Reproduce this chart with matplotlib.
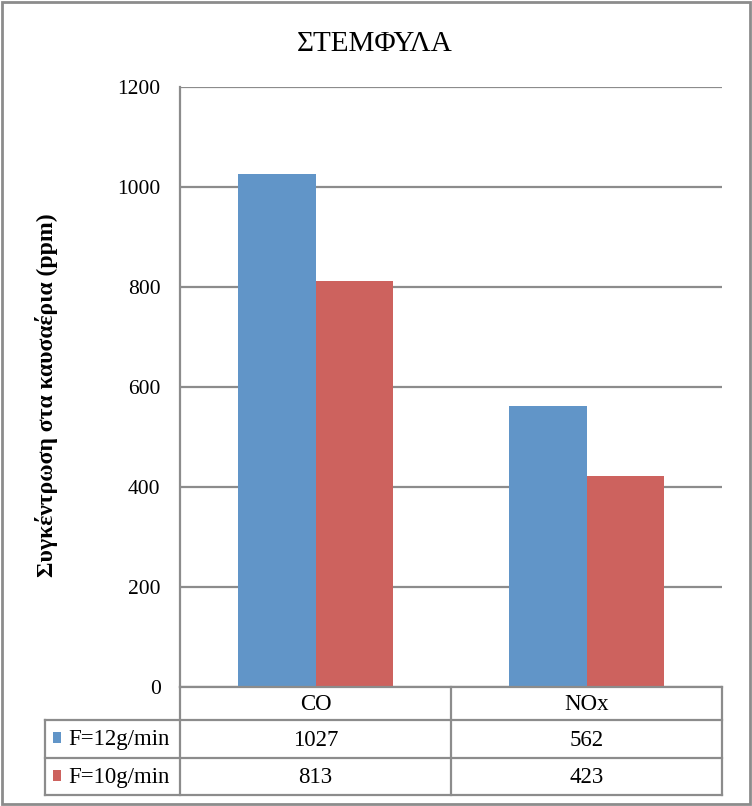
import matplotlib
matplotlib.use("Agg")
import matplotlib.pyplot as plt
import matplotlib.transforms as mtransforms
from matplotlib.patches import Rectangle
import numpy as np

title = "ΣΤΕΜΦΥΛΑ"
ylabel = "Συγκέντρωση στα καυσαέρια (ppm)"
categories = ["CO", "NOx"]
series_names = ["F=12g/min", "F=10g/min"]
values_12 = [1027, 562]
values_10 = [813, 423]
yticks = [0, 200, 400, 600, 800, 1000, 1200]
colors = ["#6195C8", "#CD625E"]

plt.rcParams['font.family'] = ['Liberation Serif', 'DejaVu Serif']

W, H = 752, 806
fig = plt.figure(figsize=(W / 100, H / 100), dpi=100)

# plot area in pixels
L, R, T, B = 180, 722, 87, 687
ax = fig.add_axes([L / W, 1 - B / H, (R - L) / W, (B - T) / H])

x = np.arange(len(categories))
w = 1 / 3.5
grid_c = "#8C8C8C"
ax.bar(x - w / 2, values_12, width=w, color=colors[0], zorder=3)
ax.bar(x + w / 2, values_10, width=w, color=colors[1], zorder=3)
ax.set_xlim(-0.5, len(categories) - 0.5)
ax.set_ylim(0, 1200)
ax.set_yticks(yticks)
ax.set_yticklabels([str(t) for t in yticks], fontsize=15.5)
ax.yaxis.grid(True, color=grid_c, linewidth=1.6, zorder=0)
ax.set_xticks([])
ax.tick_params(axis='y', length=0, pad=14)
for s in ["top", "right"]:
    ax.spines[s].set_visible(False)
for s in ["left", "bottom"]:
    ax.spines[s].set_color(grid_c)
    ax.spines[s].set_linewidth(1.6)
ax.spines["left"].set_zorder(4)
ax.spines["bottom"].set_zorder(4)

fig.text(375 / W, 1 - 44 / H, title, ha='center', va='center', fontsize=21)
fig.text(47 / W, 1 - 395 / H, ylabel, ha='center', va='center', rotation=90,
         fontsize=17, fontweight='bold')

# data table below the axes
trans = mtransforms.blended_transform_factory(ax.transData, fig.transFigure)
ftrans = fig.transFigure
def fy(py):
    return 1 - py / H

row_cat = (B, 720)
row1 = (720, 758)
row2 = (758, 795)
tbl_left = 45
lc = grid_c
lw = 1.6
for py in [720, 758, 795]:
    fig.add_artist(plt.Line2D([tbl_left / W, R / W], [fy(py), fy(py)], color=lc, lw=lw))
fig.add_artist(plt.Line2D([tbl_left / W, tbl_left / W], [fy(720), fy(795)], color=lc, lw=lw))
for xb in np.arange(len(categories) + 1) - 0.5:
    fig.add_artist(plt.Line2D([xb, xb], [fy(B), fy(795)], color=lc, lw=lw, transform=trans))

fs_tbl = 16.5
for i, c in enumerate(categories):
    fig.text(x[i], fy(sum(row_cat) / 2 + 1), c, ha='center', va='center', fontsize=fs_tbl, transform=trans)
for r, (vals, rowp) in enumerate([(values_12, row1), (values_10, row2)]):
    yc = fy(sum(rowp) / 2 + 1)
    for i, v in enumerate(vals):
        fig.text(x[i], yc, str(v), ha='center', va='center', fontsize=fs_tbl, transform=trans)
    fig.add_artist(Rectangle((53 / W, yc - 3 / H), 8 / W, 11 / H, transform=ftrans,
                             color=colors[r], lw=0))
    fig.text(68 / W, yc, series_names[r], ha='left', va='center', fontsize=fs_tbl)

fig.add_artist(Rectangle((2 / W, 2 / H), (W - 4) / W, (H - 4) / H, transform=ftrans,
                         fill=False, edgecolor=grid_c, lw=2))

fig.savefig("out.png", dpi=100)
